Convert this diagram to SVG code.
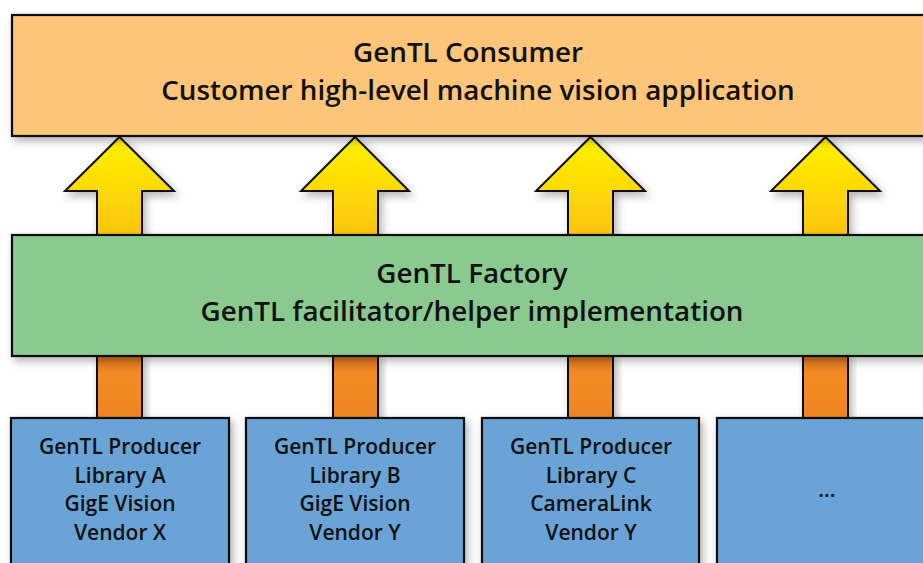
<svg xmlns="http://www.w3.org/2000/svg" width="923" height="563" viewBox="0 0 923 563">
<defs>
<linearGradient id="gy" x1="0" y1="0" x2="0" y2="1"><stop offset="0" stop-color="#FFF200"/><stop offset="1" stop-color="#FCC40C"/></linearGradient>
<linearGradient id="go" x1="0" y1="0" x2="0" y2="1"><stop offset="0" stop-color="#D9731E"/><stop offset="0.3" stop-color="#F38C24"/><stop offset="1" stop-color="#F08523"/></linearGradient>
<filter id="sh" x="-10%" y="-10%" width="130%" height="140%"><feDropShadow dx="3" dy="4" stdDeviation="4" flood-color="#000" flood-opacity="0.3"/></filter>
</defs>
<style>
.box{stroke:#111;stroke-width:2.2;filter:url(#sh)}
.ya{fill:url(#gy);stroke:#111;stroke-width:2;stroke-linejoin:miter;filter:url(#sh)}
.os{fill:url(#go);stroke:#111;stroke-width:2;filter:url(#sh)}
.t{font-family:"Open Sans","Liberation Sans",sans-serif;font-weight:600;fill:#111;text-anchor:middle}
.big{font-size:27.8px}
.sm{font-size:21px}
</style>
<rect width="923" height="563" fill="#fff"/>
<g id="connectors">
<path class="ya" d="M119.5,137 L174,191 L142,191 L142,236 L97,236 L97,191 L65,191 Z"/>
<path class="ya" d="M355,137 L409,191 L378,191 L378,236 L333,236 L333,191 L301,191 Z"/>
<path class="ya" d="M590.5,137 L645,191 L613,191 L613,236 L568,236 L568,191 L536,191 Z"/>
<path class="ya" d="M825.5,137 L880,191 L848,191 L848,236 L803,236 L803,191 L771,191 Z"/>
<rect class="os" x="97" y="355" width="45" height="64"/>
<rect class="os" x="333" y="355" width="45" height="64"/>
<rect class="os" x="568" y="355" width="45" height="64"/>
<rect class="os" x="803" y="355" width="45" height="64"/>
</g>
<g id="consumer">
<rect class="box" x="12" y="15" width="925" height="121" fill="#FCC57A"/>
<text class="t big" x="468" y="62">GenTL Consumer</text>
<text class="t big" x="478" y="100">Customer high-level machine vision application</text>
</g>
<g id="factory">
<rect class="box" x="12" y="235" width="925" height="121" fill="#8ACA8F"/>
<text class="t big" x="472" y="283">GenTL Factory</text>
<text class="t big" x="472" y="321">GenTL facilitator/helper implementation</text>
</g>
<g id="producerA">
<rect class="box" x="11" y="418" width="218" height="160" fill="#6AA3D6"/>
<text class="t sm" x="120" y="454">GenTL Producer</text>
<text class="t sm" x="120" y="483">Library A</text>
<text class="t sm" x="120" y="511">GigE Vision</text>
<text class="t sm" x="120" y="540">Vendor X</text>
</g>
<g id="producerB">
<rect class="box" x="246" y="418" width="218" height="160" fill="#6AA3D6"/>
<text class="t sm" x="355" y="454">GenTL Producer</text>
<text class="t sm" x="355" y="483">Library B</text>
<text class="t sm" x="355" y="511">GigE Vision</text>
<text class="t sm" x="355" y="540">Vendor Y</text>
</g>
<g id="producerC">
<rect class="box" x="482" y="418" width="217" height="160" fill="#6AA3D6"/>
<text class="t sm" x="591" y="454">GenTL Producer</text>
<text class="t sm" x="591" y="483">Library C</text>
<text class="t sm" x="591" y="511">CameraLink</text>
<text class="t sm" x="591" y="540">Vendor Y</text>
</g>
<g id="producerMore">
<rect class="box" x="717" y="418" width="220" height="160" fill="#6AA3D6"/>
<text class="t sm" x="827" y="497">...</text>
</g>
</svg>
